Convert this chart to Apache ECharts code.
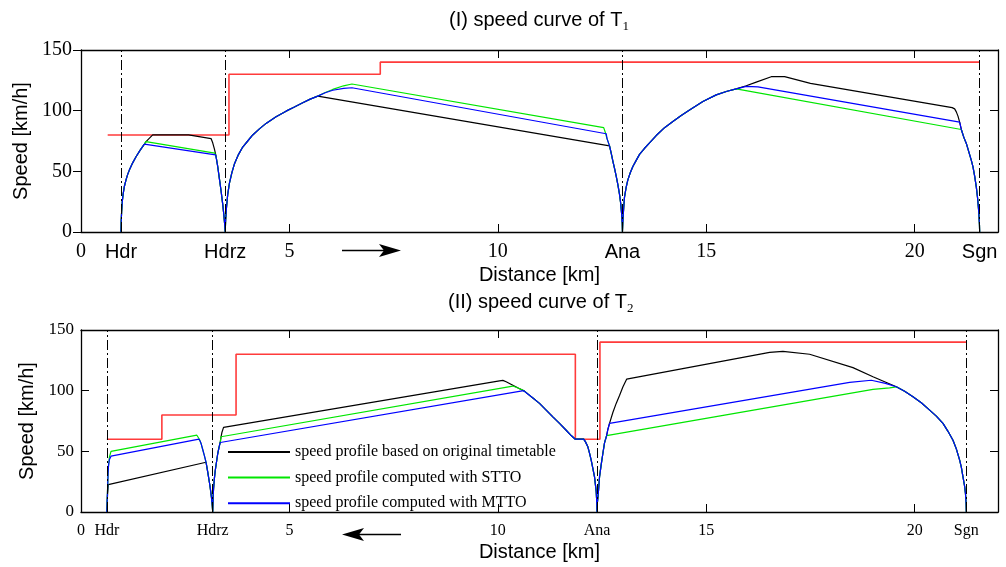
<!DOCTYPE html>
<html>
<head>
<meta charset="utf-8">
<script src="https://cdn.jsdelivr.net/npm/echarts@6/dist/echarts.min.js"></script>
<style>
  html, body { margin: 0; padding: 0; background: #fff; }
  #chart { width: 1006px; height: 567px; }
</style>
</head>
<body>
<div id="chart"></div>
<script>
// ---- (I) train T1, distance [km] / speed [km/h] ----
const t1Stations = [0.96, 3.46, 12.99, 21.56]
const t1StationNames = ['Hdr', 'Hdrz', 'Ana', 'Sgn']
const t1Limit = [[0.64, 80], [3.55, 80], [3.55, 130], [7.18, 130], [7.18, 140], [21.56, 140]]
const t1Original = [
  [0.96, 0], [0.965, 9], [0.975, 17], [0.99, 25], [1.01, 31], [1.04, 37.5], [1.08, 43], [1.12, 47.5], [1.16, 51],
  [1.24, 57], [1.32, 62], [1.42, 67.5], [1.52, 72.4], [1.56, 74.5], [1.72, 80], [2.58, 80], [3.12, 77],
  [3.16, 73.5], [3.2, 68.5], [3.24, 62.5], [3.28, 54], [3.32, 44], [3.36, 34], [3.4, 23], [3.43, 13], [3.45, 5], [3.46, 0],
  [3.47, 10], [3.49, 20], [3.52, 31], [3.56, 40], [3.62, 49], [3.68, 56], [3.78, 64], [3.88, 70], [4.0, 75], [4.12, 80],
  [4.28, 85], [4.44, 89.5], [4.68, 95], [4.92, 99.6], [5.12, 103], [5.32, 106.5], [5.5, 109.5], [5.68, 112],
  [12.68, 71], [12.72, 65], [12.76, 58.5], [12.8, 52.5], [12.84, 46], [12.88, 39], [12.92, 31], [12.95, 23], [12.97, 15], [12.985, 7], [12.99, 0],
  [13.0, 9], [13.02, 20], [13.04, 29], [13.08, 37], [13.12, 43], [13.18, 49], [13.24, 54], [13.32, 59], [13.4, 64],
  [13.52, 69], [13.64, 73.5], [13.8, 79.5], [14.0, 86], [14.2, 91], [14.4, 96], [14.6, 100.5], [14.92, 107.5],
  [15.24, 113], [15.5, 116], [15.72, 118], [15.96, 120.5], [16.2, 123.5], [16.56, 128], [16.88, 128], [17.5, 122.5],
  [20.9, 102.5], [20.96, 101.5], [21.0, 99], [21.04, 95.5], [21.08, 90.5], [21.12, 84.5], [21.18, 78], [21.24, 73],
  [21.3, 66], [21.36, 59], [21.4, 53.7], [21.44, 46], [21.48, 37], [21.51, 28], [21.54, 16], [21.555, 6], [21.56, 0]
]
const t1Stto = [
  [0.96, 0], [0.965, 9], [0.975, 17], [0.99, 25], [1.01, 31], [1.04, 37.5], [1.08, 43], [1.12, 47.5], [1.16, 51],
  [1.24, 57], [1.32, 62], [1.42, 67.5], [1.52, 72.4], [1.56, 74.5], [3.21, 65],
  [3.24, 62.5], [3.28, 54], [3.32, 44], [3.36, 34], [3.4, 23], [3.43, 13], [3.45, 5], [3.46, 0],
  [3.47, 10], [3.49, 20], [3.52, 31], [3.56, 40], [3.62, 49], [3.68, 56], [3.78, 64], [3.88, 70], [4.0, 75], [4.12, 80],
  [4.28, 85], [4.44, 89.5], [4.68, 95], [4.92, 99.6], [5.12, 103], [5.32, 106.5], [5.5, 109.5], [5.68, 112],
  [5.86, 115], [6.04, 117.5], [6.3, 120.5], [6.5, 122], [12.54, 86], [12.58, 82], [12.62, 77], [12.68, 71],
  [12.72, 65], [12.76, 58.5], [12.8, 52.5], [12.84, 46], [12.88, 39], [12.92, 31], [12.95, 23], [12.97, 15], [12.985, 7], [12.99, 0],
  [13.0, 9], [13.02, 20], [13.04, 29], [13.08, 37], [13.12, 43], [13.18, 49], [13.24, 54], [13.32, 59], [13.4, 64],
  [13.52, 69], [13.64, 73.5], [13.8, 79.5], [14.0, 86], [14.2, 91], [14.4, 96], [14.6, 100.5], [14.92, 107.5],
  [15.24, 113], [15.5, 116], [15.72, 118], [21.12, 84.5], [21.18, 78], [21.24, 73],
  [21.3, 66], [21.36, 59], [21.4, 53.7], [21.44, 46], [21.48, 37], [21.51, 28], [21.54, 16], [21.555, 6], [21.56, 0]
]
const t1Mtto = [
  [0.96, 0], [0.965, 9], [0.975, 17], [0.99, 25], [1.01, 31], [1.04, 37.5], [1.08, 43], [1.12, 47.5], [1.16, 51],
  [1.24, 57], [1.32, 62], [1.42, 67.5], [1.52, 72.4], [3.23, 63.5],
  [3.24, 62.5], [3.28, 54], [3.32, 44], [3.36, 34], [3.4, 23], [3.43, 13], [3.45, 5], [3.46, 0],
  [3.47, 10], [3.49, 20], [3.52, 31], [3.56, 40], [3.62, 49], [3.68, 56], [3.78, 64], [3.88, 70], [4.0, 75], [4.12, 80],
  [4.28, 85], [4.44, 89.5], [4.68, 95], [4.92, 99.6], [5.12, 103], [5.32, 106.5], [5.5, 109.5], [5.68, 112],
  [5.86, 114.8], [6.04, 116.8], [6.3, 118.3], [6.5, 118.9], [12.6, 81], [12.62, 77], [12.68, 71],
  [12.72, 65], [12.76, 58.5], [12.8, 52.5], [12.84, 46], [12.88, 39], [12.92, 31], [12.95, 23], [12.97, 15], [12.985, 7], [12.99, 0],
  [13.0, 9], [13.02, 20], [13.04, 29], [13.08, 37], [13.12, 43], [13.18, 49], [13.24, 54], [13.32, 59], [13.4, 64],
  [13.52, 69], [13.64, 73.5], [13.8, 79.5], [14.0, 86], [14.2, 91], [14.4, 96], [14.6, 100.5], [14.92, 107.5],
  [15.24, 113], [15.5, 116], [15.72, 118], [15.96, 120], [16.24, 119.6], [21.08, 90.5], [21.12, 84.5], [21.18, 78], [21.24, 73],
  [21.3, 66], [21.36, 59], [21.4, 53.7], [21.44, 46], [21.48, 37], [21.51, 28], [21.54, 16], [21.555, 6], [21.56, 0]
]

// ---- (II) train T2 ----
const t2Stations = [0.62, 3.16, 12.38, 21.24]
const t2StationNames = ['Hdr', 'Hdrz', 'Ana', 'Sgn']
const t2Limit = [[0.62, 60], [1.94, 60], [1.94, 80], [3.72, 80], [3.72, 130], [11.86, 130], [11.86, 60], [12.45, 60], [12.45, 140], [21.24, 140]]
const t2Original = [
  [0.62, 0], [0.63, 10], [0.64, 16], [0.655, 22.6], [3.0, 41], [3.04, 33], [3.08, 24.5], [3.1, 20], [3.13, 12], [3.15, 5], [3.16, 0],
  [3.17, 13], [3.18, 19], [3.2, 27.5], [3.22, 34], [3.25, 41], [3.28, 48], [3.31, 53], [3.34, 57.3], [3.36, 62], [3.38, 65.5], [3.42, 69.7],
  [10.04, 108.1], [10.12, 108.5], [10.2, 107.3], [10.36, 104.5], [10.5, 102], [10.64, 99.6], [10.82, 94.5], [11.0, 89.5],
  [11.16, 84], [11.32, 78.4], [11.48, 73], [11.64, 67.4], [11.76, 63], [11.86, 60], [12.06, 60], [12.1, 58], [12.16, 53.7],
  [12.2, 48.5], [12.24, 42.7], [12.28, 36], [12.32, 28.9], [12.34, 23], [12.36, 17], [12.37, 11], [12.38, 0],
  [12.39, 8], [12.41, 15], [12.44, 28.9], [12.48, 39], [12.52, 48.2], [12.56, 57], [12.61, 63], [12.64, 68], [12.68, 73],
  [12.76, 82], [12.84, 89.5], [12.92, 96], [13.0, 103], [13.09, 109.5],
  [16.52, 131.6], [16.84, 132.4], [17.48, 130], [18.52, 119], [19.0, 111.5], [19.56, 103.2],
  [19.76, 99.5], [19.96, 95], [20.16, 90], [20.36, 84], [20.52, 79], [20.68, 73], [20.8, 66.5], [20.92, 59.2], [21.0, 52],
  [21.08, 42.7], [21.12, 37], [21.16, 28.9], [21.2, 21], [21.22, 15], [21.235, 7], [21.24, 0]
]
const t2Stto = [
  [0.62, 0], [0.63, 12], [0.64, 21], [0.65, 32], [0.66, 38], [0.68, 45], [0.72, 50], [0.76, 51.5], [2.78, 63.3],
  [2.84, 60], [2.88, 56.5], [2.92, 51.5], [2.96, 46.5], [3.0, 41], [3.04, 33], [3.08, 24.5], [3.1, 20], [3.13, 12], [3.15, 5], [3.16, 0],
  [3.17, 13], [3.18, 19], [3.2, 27.5], [3.22, 34], [3.25, 41], [3.28, 48], [3.31, 53], [3.34, 57.3], [3.36, 62],
  [10.36, 103.8], [10.5, 102], [10.64, 99.6], [10.82, 94.5], [11.0, 89.5],
  [11.16, 84], [11.32, 78.4], [11.48, 73], [11.64, 67.4], [11.76, 63], [11.86, 60], [12.06, 60], [12.1, 58], [12.16, 53.7],
  [12.2, 48.5], [12.24, 42.7], [12.28, 36], [12.32, 28.9], [12.34, 23], [12.36, 17], [12.37, 11], [12.38, 0],
  [12.39, 8], [12.41, 15], [12.44, 28.9], [12.48, 39], [12.52, 48.2], [12.56, 57], [12.61, 63],
  [19.0, 101], [19.4, 102.3], [19.56, 103.2],
  [19.76, 99.5], [19.96, 95], [20.16, 90], [20.36, 84], [20.52, 79], [20.68, 73], [20.8, 66.5], [20.92, 59.2], [21.0, 52],
  [21.08, 42.7], [21.12, 37], [21.16, 28.9], [21.2, 21], [21.22, 15], [21.235, 7], [21.24, 0]
]
const t2Mtto = [
  [0.62, 0], [0.63, 12], [0.64, 21], [0.65, 32], [0.66, 38], [0.68, 43], [0.72, 46], [0.76, 47.6], [2.83, 60],
  [2.86, 58.3], [2.88, 56.5], [2.92, 51.5], [2.96, 46.5], [3.0, 41], [3.04, 33], [3.08, 24.5], [3.1, 20], [3.13, 12], [3.15, 5], [3.16, 0],
  [3.17, 13], [3.18, 19], [3.2, 27.5], [3.22, 34], [3.25, 41], [3.28, 48], [3.31, 53], [3.34, 57.3],
  [10.62, 100], [10.82, 94.5], [11.0, 89.5],
  [11.16, 84], [11.32, 78.4], [11.48, 73], [11.64, 67.4], [11.76, 63], [11.86, 60], [12.06, 60], [12.1, 58], [12.16, 53.7],
  [12.2, 48.5], [12.24, 42.7], [12.28, 36], [12.32, 28.9], [12.34, 23], [12.36, 17], [12.37, 11], [12.38, 0],
  [12.39, 8], [12.41, 15], [12.44, 28.9], [12.48, 39], [12.52, 48.2], [12.56, 57], [12.61, 63], [12.64, 68], [12.68, 73],
  [18.44, 106.8], [18.96, 108.6], [19.3, 106], [19.56, 103.2],
  [19.76, 99.5], [19.96, 95], [20.16, 90], [20.36, 84], [20.52, 79], [20.68, 73], [20.8, 66.5], [20.92, 59.2], [21.0, 52],
  [21.08, 42.7], [21.12, 37], [21.16, 28.9], [21.2, 21], [21.22, 15], [21.235, 7], [21.24, 0]
]

const distanceTicks = [0, 5, 10, 15, 20]
const seriesNames = [
  'speed profile based on original timetable',
  'speed profile computed with STTO',
  'speed profile computed with MTTO'
]

const SANS = 'Liberation Sans, Arial, sans-serif'
const SERIF = 'Liberation Serif, Times New Roman, serif'

const chart = echarts.init(document.getElementById('chart'), null, { renderer: 'canvas' })

// label text for each custom tick position (numbers + station names)
const makeXFormatter = (stations, names) => (value) => {
  let best = -1
  stations.forEach((s, i) => { if (Math.abs(s - value) < 1e-6) best = i })
  if (best >= 0) return '{st|' + names[best] + '}'
  return '{num|' + value + '}'
}

const frame = { show: true, onZero: false, lineStyle: { color: '#000', width: 1.3 } }

const xAxisPair = (gridIndex, stations, names, stFont, numSize, stSize, margin) => [
  {
    type: 'value', gridIndex, min: 0, max: 22,
    axisLine: frame,
    axisTick: { show: true, inside: true, length: 8, customValues: distanceTicks, lineStyle: { color: '#000' } },
    axisLabel: {
      customValues: distanceTicks.concat(stations).sort((a, b) => a - b),
      formatter: makeXFormatter(stations, names),
      margin,
      rich: {
        num: { fontFamily: SERIF, fontSize: numSize, color: '#000' },
        st: { fontFamily: stFont, fontSize: stSize, color: '#000' }
      }
    },
    splitLine: { show: false },
    name: 'Distance [km]', nameLocation: 'middle', nameGap: gridIndex === 0 ? 33 : 30,
    nameTextStyle: { fontFamily: SANS, fontSize: 20, color: '#000' }
  },
  {
    type: 'value', gridIndex, min: 0, max: 22, position: 'top',
    axisLine: frame,
    axisTick: { show: true, inside: true, length: 8, customValues: distanceTicks, lineStyle: { color: '#000' } },
    axisLabel: { show: false },
    splitLine: { show: false }
  }
]

const yAxisPair = (gridIndex, leftInside, fontSize, margin, nameGap) => [
  {
    type: 'value', gridIndex, min: 0, max: 150, interval: 50,
    axisLine: frame,
    axisTick: { show: true, inside: leftInside, length: 8, lineStyle: { color: '#000' } },
    axisLabel: { fontFamily: SERIF, fontSize, color: '#000', margin },
    splitLine: { show: false },
    name: 'Speed [km/h]', nameLocation: 'middle', nameGap,
    nameTextStyle: { fontFamily: SANS, fontSize: 20, color: '#000' }
  },
  {
    type: 'value', gridIndex, min: 0, max: 150, interval: 50, position: 'right',
    axisLine: frame,
    axisTick: { show: true, inside: true, length: 8, lineStyle: { color: '#000' } },
    axisLabel: { show: false },
    splitLine: { show: false }
  }
]

const stationLines = (stations) => ({
  silent: true,
  symbol: 'none',
  label: { show: false },
  lineStyle: { color: '#000', width: 1, type: [10, 3, 2, 3] },
  data: stations.map(s => ({ xAxis: s }))
})

const lineSeries = (name, data, color, axisIdx, width) => ({
  name, type: 'line', data,
  xAxisIndex: axisIdx * 2, yAxisIndex: axisIdx * 2,
  showSymbol: false, symbol: 'none', animation: false,
  lineStyle: { color, width }, itemStyle: { color }
})

const titleStyle = {
  fontFamily: SANS, fontSize: 20, fontWeight: 'normal', color: '#000',
  rich: { sub: { fontFamily: SERIF, fontSize: 13, color: '#000', padding: [12, 0, 0, 0] } }
}

const option = {
  backgroundColor: '#fff',
  animation: false,
  title: [
    { text: '(I) speed curve of T{sub|1}', left: 444, top: 3, textStyle: titleStyle },
    { text: '(II) speed curve of T{sub|2}', left: 443, top: 285, textStyle: titleStyle }
  ],
  legend: {
    data: seriesNames,
    orient: 'vertical', left: 222, top: 439,
    itemWidth: 62, itemHeight: 16, itemGap: 9.6,
    itemStyle: { opacity: 0 },
    textStyle: { fontFamily: SERIF, fontSize: 16, color: '#000' }
  },
  grid: [
    { left: 81, right: 8, top: 50, height: 182 },
    { left: 81, right: 8, top: 330, height: 182 }
  ],
  xAxis: [
    ...xAxisPair(0, t1Stations, t1StationNames, SANS, 20, 20, 10),
    ...xAxisPair(1, t2Stations, t2StationNames, SERIF, 16, 16, 11)
  ],
  yAxis: [
    ...yAxisPair(0, false, 20, 9, 50),
    ...yAxisPair(1, true, 17, 7, 40)
  ],
  series: [
    Object.assign(lineSeries('limit1', t1Limit, '#ff3b3b', 0, 1.6), { markLine: stationLines(t1Stations) }),
    lineSeries(seriesNames[0], t1Original, '#000000', 0, 1.2),
    lineSeries(seriesNames[1], t1Stto, '#00e600', 0, 1.2),
    lineSeries(seriesNames[2], t1Mtto, '#0000ff', 0, 1.2),
    Object.assign(lineSeries('limit2', t2Limit, '#ff3b3b', 1, 1.6), { markLine: stationLines(t2Stations) }),
    lineSeries(seriesNames[0], t2Original, '#000000', 1, 1.2),
    lineSeries(seriesNames[1], t2Stto, '#00e600', 1, 1.2),
    lineSeries(seriesNames[2], t2Mtto, '#0000ff', 1, 1.2)
  ],
  // direction arrows under each plot
  graphic: [
    { type: 'line', shape: { x1: 342, y1: 250.5, x2: 388, y2: 250.5 }, style: { stroke: '#000', lineWidth: 1.5 } },
    { type: 'polygon', shape: { points: [[401, 250.5], [379, 244], [384, 250.5], [379, 257]] }, style: { fill: '#000' } },
    { type: 'line', shape: { x1: 355, y1: 534.5, x2: 401, y2: 534.5 }, style: { stroke: '#000', lineWidth: 1.5 } },
    { type: 'polygon', shape: { points: [[342, 534.5], [364, 528], [359, 534.5], [364, 541]] }, style: { fill: '#000' } }
  ]
}

chart.setOption(option)
window.addEventListener('resize', () => chart.resize())
</script>
</body>
</html>
